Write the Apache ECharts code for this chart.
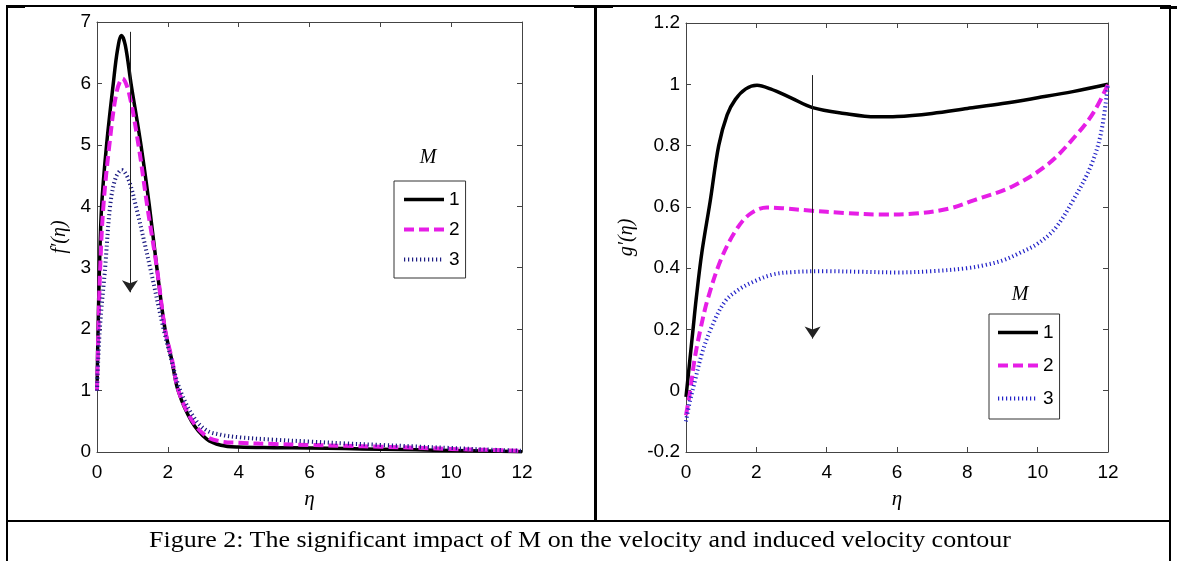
<!DOCTYPE html>
<html>
<head>
<meta charset="utf-8">
<script src="https://cdn.jsdelivr.net/npm/echarts@6/dist/echarts.min.js"></script>
<style>
  html, body { margin:0; padding:0; background:#fff; }
  body { width:1177px; height:561px; position:relative; overflow:hidden; }
  .ln { position:absolute; background:#000; }
  #left { position:absolute; left:0; top:0; width:595px; height:521px; }
  #right { position:absolute; left:595px; top:0; width:574px; height:521px; }
  #caption { position:absolute; left:0; top:528px; width:1160px; height:23px; line-height:23px;
    text-align:center; font-family:'Liberation Serif','Times New Roman',serif; font-size:23px; color:#000;
    transform:scaleX(1.13); transform-origin:580px 50%; white-space:nowrap; }
</style>
</head>
<body>
<div id="left"></div>
<div id="right"></div>
<div class="ln" style="left:6px;top:5px;width:1165px;height:2px;"></div>
<div class="ln" style="left:6px;top:5px;width:19px;height:3px;"></div>
<div class="ln" style="left:574px;top:5px;width:39px;height:3px;"></div>
<div class="ln" style="left:1160px;top:6px;width:17px;height:3px;"></div>
<div class="ln" style="left:6px;top:5px;width:2px;height:556px;"></div>
<div class="ln" style="left:1169px;top:5px;width:2px;height:556px;"></div>
<div class="ln" style="left:594px;top:5px;width:3px;height:517px;"></div>
<div class="ln" style="left:6px;top:520px;width:1165px;height:2px;"></div>
<div id="caption">Figure 2: The significant impact of M on the velocity and induced velocity contour</div>
<script>
// ---------- data: left panel f'(eta) ----------
const xTicks = [0, 2, 4, 6, 8, 10, 12];
const legendNames = ['1', '2', '3'];

const fEta1 = [0, 0.03, 0.07, 0.13, 0.27, 0.46, 0.58, 0.69, 0.8, 0.96, 1.24, 1.48, 1.69, 1.92, 2.11, 2.29, 2.67, 3.1, 3.5, 4, 5, 6, 7, 8, 9, 10, 11, 12];
const fVal1 = [1, 2, 3, 4, 5, 6, 6.55, 6.78, 6.62, 6.0, 5.0, 4.0, 3.0, 2.0, 1.5, 1.0, 0.5, 0.21, 0.11, 0.08, 0.07, 0.065, 0.055, 0.045, 0.035, 0.025, 0.015, 0.005];

const fEta2 = [0, 0.04, 0.09, 0.18, 0.35, 0.55, 0.72, 0.9, 1.17, 1.42, 1.69, 1.92, 2.12, 2.3, 2.7, 3.1, 3.5, 4, 5, 6, 7, 8, 9, 10, 11, 12];
const fVal2 = [1, 2, 3, 4, 5, 5.85, 6.08, 5.85, 5.0, 4.0, 3.0, 2.0, 1.5, 1.0, 0.5, 0.25, 0.17, 0.15, 0.13, 0.115, 0.1, 0.085, 0.07, 0.05, 0.035, 0.02];

const fEta3 = [0, 0.08, 0.23, 0.37, 0.52, 0.7, 0.88, 1.1, 1.5, 1.88, 2.1, 2.35, 2.75, 3.1, 3.5, 4, 5, 6, 7, 8, 9, 10, 11, 12];
const fVal3 = [1, 2, 3, 4, 4.45, 4.59, 4.45, 4.0, 3.0, 2.0, 1.5, 1.0, 0.55, 0.35, 0.28, 0.24, 0.2, 0.17, 0.14, 0.115, 0.09, 0.065, 0.04, 0.02];

const fArrow = { eta: 0.93, from: 6.84, to: 2.6 };

// ---------- data: right panel g'(eta) ----------
const gEta1 = [0, 0.1, 0.2, 0.29, 0.45, 0.69, 0.93, 1.17, 1.4, 1.7, 2.02, 2.4, 3.0, 3.6, 4.5, 5.4, 6, 7, 8, 9, 10, 11, 12];
const gVal1 = [-0.02, 0.09, 0.2, 0.3, 0.45, 0.62, 0.8, 0.9, 0.95, 0.985, 0.997, 0.985, 0.955, 0.924, 0.905, 0.894, 0.895, 0.905, 0.921, 0.937, 0.956, 0.976, 1.0];

const gEta2 = [0, 0.12, 0.24, 0.41, 0.62, 1.0, 1.4, 1.8, 2.3, 2.8, 3.5, 4.5, 5.5, 6.5, 7.5, 8.2, 9.25, 10.3, 11.14, 11.6, 12];
const gVal2 = [-0.08, 0, 0.1, 0.2, 0.3, 0.43, 0.52, 0.575, 0.598, 0.595, 0.588, 0.58, 0.575, 0.578, 0.595, 0.622, 0.665, 0.74, 0.84, 0.91, 1.0];

const gEta3 = [0, 0.1, 0.25, 0.45, 0.7, 1.1, 1.5, 2, 2.5, 3, 4, 5, 6, 7, 8, 8.5, 9, 9.5, 10, 10.5, 11, 11.5, 11.8, 12];
const gVal3 = [-0.1, -0.04, 0.03, 0.12, 0.2, 0.29, 0.33, 0.36, 0.38, 0.387, 0.39, 0.388, 0.386, 0.39, 0.4, 0.41, 0.425, 0.45, 0.48, 0.53, 0.62, 0.73, 0.84, 1.0];

const gArrow = { eta: 3.6, from: 1.03, to: 0.17 };

// ---------- styles ----------
const colors = ['#000000', '#e61ee6', '#1c1c82'];
const colorsRight = ['#000000', '#e61ee6', '#2424c8'];

function zip(a, b) { return a.map((x, i) => [x, b[i]]); }

const tickFont = { color:'#000', fontFamily:'Liberation Sans, Arial, sans-serif', fontSize:19 };
const axisLineStyle = { color:'#444', width:1 };

function buildOption(p) {
  const xBase = { type:'value', min:0, max:12, interval:2, splitLine:{show:false},
    axisLine:{ show:true, onZero:false, lineStyle:axisLineStyle },
    axisTick:{ show:true, inside:true, length:5, lineStyle:axisLineStyle } };
  const yBase = { type:'value', min:p.yMin, max:p.yMax, interval:p.yInt, splitLine:{show:false},
    axisLine:{ show:true, onZero:false, lineStyle:axisLineStyle },
    axisTick:{ show:true, inside:true, length:5, lineStyle:axisLineStyle } };
  const series = p.data.map((d, i) => {
    const s = {
      type:'line', name:legendNames[i], data:zip(d[0], d[1]), symbol:'none',
      smooth:0.35, z: 2 + i,
      lineStyle:{ color:p.colors[i], width:p.widths[i], type:p.types[i], cap:'butt', join:'round' },
      itemStyle:{ color:p.colors[i] }
    };
    if (i === 0) {
      s.markLine = {
        silent:true, animation:false, symbol:['none','arrow'], symbolSize:12,
        label:{show:false},
        lineStyle:{ color:'#222', width:1, type:'solid' },
        data:[[ { coord:[p.arrow.eta, p.arrow.from] }, { coord:[p.arrow.eta, p.arrow.to] } ]]
      };
    }
    return s;
  });
  return {
    animation:false,
    grid:{ left:p.grid[0], top:p.grid[1], width:p.grid[2], height:p.grid[3], containLabel:false },
    xAxis:[
      Object.assign({}, xBase, { position:'bottom',
        axisLabel:Object.assign({ margin:11 }, tickFont),
        name:'η', nameLocation:'middle', nameGap:37,
        nameTextStyle:{ fontFamily:'Liberation Serif, serif', fontStyle:'italic', fontSize:21, color:'#000' } }),
      Object.assign({}, xBase, { position:'top', axisLabel:{show:false} })
    ],
    yAxis:[
      Object.assign({}, yBase, { position:'left',
        axisLabel:Object.assign({ margin:6 }, tickFont),
        name:p.yName, nameLocation:'middle', nameGap:p.yNameGap, nameRotate:90,
        nameTextStyle:{ fontFamily:'Liberation Serif, serif', fontStyle:'italic', fontSize:20, color:'#000' } }),
      Object.assign({}, yBase, { position:'right', axisLabel:{show:false} })
    ],
    legend:{
      data:legendNames, orient:'vertical', left:p.legend[0], top:p.legend[1],
      itemWidth:40, itemHeight:18, itemGap:p.legend[2], padding:p.legend[3],
      borderColor:'#333', borderWidth:1, borderRadius:0, selectedMode:false,
      itemStyle:{ color:'rgba(0,0,0,0)', borderWidth:0, opacity:0 },
      lineStyle:{ width:'inherit', type:'inherit', color:'inherit' },
      textStyle:{ color:'#000', fontFamily:'Liberation Sans, Arial, sans-serif', fontSize:19 }
    },
    graphic:[{
      type:'text', x:p.mPos[0], y:p.mPos[1],
      style:{ text:'M', font:'italic 20px "Liberation Serif", serif', fill:'#000',
        align:'center', verticalAlign:'middle' }
    }],
    series:series
  };
}

const leftChart = echarts.init(document.getElementById('left'), null, { renderer:'canvas' });
leftChart.setOption(buildOption({
  yMin:0, yMax:7, yInt:1, yName:'f′(η)', yNameGap:10,
  grid:[97, 22, 425, 430],
  data:[[fEta1, fVal1], [fEta2, fVal2], [fEta3, fVal3]],
  colors:colors, widths:[3.5, 4, 4], types:['solid', [10, 5], [1.2, 2.8]],
  arrow:fArrow,
  legend:[394, 181, 11, [9, 6, 9, 8]],
  mPos:[428, 158]
}));

const rightChart = echarts.init(document.getElementById('right'), null, { renderer:'canvas' });
rightChart.setOption(buildOption({
  yMin:-0.2, yMax:1.2, yInt:0.2, yName:'g′(η)', yNameGap:40,
  grid:[91, 23, 422, 429],
  data:[[gEta1, gVal1], [gEta2, gVal2], [gEta3, gVal3]],
  colors:colorsRight, widths:[3.5, 4, 4], types:['solid', [10, 5], [1.2, 2.8]],
  arrow:gArrow,
  legend:[394, 314, 14, [9, 6, 11, 7]],
  mPos:[425, 295]
}));
</script>
</body>
</html>
